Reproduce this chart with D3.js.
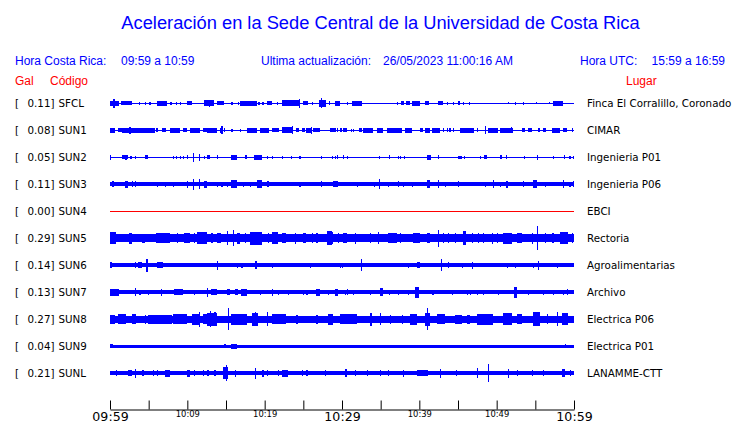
<!DOCTYPE html>
<html><head><meta charset="utf-8">
<script src="https://cdn.jsdelivr.net/npm/d3@7"></script>
<style>
body{margin:0;background:#fff;}
svg{display:block;}
</style></head>
<body>
<svg id="chart" width="740" height="423"></svg>
<script>
// ---- data ----
const title = "Aceleración en la Sede Central de la Universidad de Costa Rica";
const headerLeft = ["Hora Costa Rica:", "09:59 a 10:59"];
const headerMid = ["Ultima actualización:", "26/05/2023 11:00:16 AM"];
const headerRight = ["Hora UTC:", "15:59 a 16:59"];
const stations = ["SFCL","SUN1","SUN2","SUN3","SUN4","SUN5","SUN6","SUN7","SUN8","SUN9","SUNL"];
const places = ["Finca El Corralillo, Coronado","CIMAR","Ingenieria P01","Ingenieria P06","EBCI","Rectoria","Agroalimentarias","Archivo","Electrica P06","Electrica P01","LANAMME-CTT"];
const peaks = [0.11,0.08,0.05,0.11,0.00,0.29,0.14,0.13,0.27,0.04,0.21];
// continuous background amplitude (Gal, half-height) of each trace
const baseAmp = [0,0,0,0.045,0,0.095,0.05,0.05,0.085,0.03,0.05];
// minutes after 09:59
const tickMinutes = [0,5,10,15,20,25,30,35,40,45,50,55,60];
const tickLabels = ["09:59","","10:09","","10:19","","10:29","","10:39","","10:49","","10:59"];
const bigTicks = ["09:59","10:29","10:59"];

// bursts: [start minute, end minute, amplitude Gal]
const evSFCL = [[0.0,1.2,0.06],[0.45,0.5,0.11],[1.4,2.8,0.05],[3.7,3.75,0.035],[4.5,4.7,0.035],[5.1,5.15,0.035],[6.1,7.4,0.06],[7.8,7.85,0.035],[8.5,8.55,0.035],[9.0,9.05,0.035],[10.0,10.6,0.05],[12.1,13.5,0.07],[12.8,12.85,0.09],[13.8,14.8,0.05],[15.7,15.75,0.035],[16.5,16.55,0.035],[16.8,19.0,0.06],[19.2,19.25,0.035],[19.7,19.75,0.035],[20.3,21.0,0.05],[21.6,21.65,0.035],[22.2,24.5,0.07],[24.4,24.45,0.105],[24.9,25.6,0.05],[26.1,26.15,0.035],[27.0,27.9,0.09],[27.3,27.35,0.12],[28.3,28.35,0.05],[29.1,29.8,0.06],[30.6,30.65,0.035],[31.3,32.6,0.06],[37.1,37.15,0.035],[37.6,38.0,0.05],[38.3,38.8,0.05],[39.0,40.1,0.06],[40.7,41.2,0.05],[42.4,43.0,0.05],[43.6,43.65,0.035],[44.3,44.35,0.035],[45.0,45.2,0.05],[45.6,45.65,0.035],[46.4,46.45,0.035],[51.5,51.55,0.025],[52.4,52.45,0.035],[53.4,53.45,0.035],[55.1,55.15,0.025],[56.8,56.85,0.025],[57.3,58.6,0.06]];
const evSUN1 = [[0,0.6,0.06],[1.0,1.5,0.05],[1.6,2.8,0.06],[2.5,2.55,0.085],[2.8,5.8,0.06],[6.0,6.2,0.05],[6.7,7.3,0.05],[7.8,9.0,0.06],[9.4,9.9,0.05],[10.3,11.6,0.06],[12.0,12.5,0.05],[12.6,13.8,0.06],[14.2,14.6,0.06],[14.4,14.45,0.095],[14.7,14.75,0.05],[15.7,15.75,0.037],[16.8,16.85,0.037],[17.7,19.0,0.06],[19.4,20.6,0.06],[21.0,21.9,0.05],[22.2,23.6,0.07],[23.5,23.55,0.095],[24.1,24.5,0.05],[24.8,25.2,0.05],[25.4,26.1,0.06],[25.95,26.0,0.085],[26.2,27.1,0.05],[28.4,28.8,0.05],[28.7,29.2,0.05],[29.3,29.35,0.05],[29.8,29.85,0.045],[30.1,30.7,0.05],[31.1,31.15,0.04],[31.4,31.45,0.04],[32.2,32.6,0.05],[32.7,34.0,0.06],[34.5,35.3,0.06],[35.8,37.7,0.06],[38.1,39.0,0.06],[40.1,40.5,0.05],[40.7,41.4,0.06],[41.6,42.7,0.06],[43.0,43.05,0.05],[43.6,43.65,0.05],[43.9,43.95,0.05],[44.3,44.35,0.05],[45.2,47.1,0.06],[47.4,47.45,0.05],[48.5,48.55,0.095],[48.9,50.2,0.06],[50.4,52.1,0.06],[51.8,51.9,0.075],[53.3,53.7,0.05],[54.0,54.6,0.05],[55.3,55.6,0.05],[56.0,56.4,0.05],[57.2,58.2,0.06],[58.6,59.1,0.05],[59.7,59.75,0.05]];
const evSUN2 = [[0.0,0.05,0.06],[1.6,2.3,0.05],[2.0,2.05,0.06],[2.65,2.7,0.037],[3.2,3.25,0.037],[4.5,4.9,0.05],[8.1,8.15,0.037],[8.5,8.55,0.037],[9.0,9.05,0.037],[9.4,9.45,0.037],[9.9,9.95,0.05],[10.7,10.75,0.11],[11.5,11.55,0.085],[12.1,12.15,0.037],[12.5,12.9,0.05],[13.8,13.85,0.05],[15.7,16.4,0.06],[17.5,17.55,0.05],[18.6,19.7,0.06],[20.3,20.35,0.037],[20.9,20.95,0.037],[22.2,22.25,0.037],[23.4,23.45,0.037],[24.5,24.55,0.037],[27.3,27.35,0.037],[28.7,28.75,0.037],[29.1,29.15,0.037],[29.3,29.5,0.05],[30.1,30.15,0.05],[30.6,30.65,0.037],[34.8,34.85,0.037],[36.1,36.15,0.05],[37.2,37.25,0.037],[37.5,37.55,0.037],[38.0,38.05,0.037],[41.0,41.5,0.06],[42.4,42.6,0.05],[45.0,45.5,0.037],[45.8,45.85,0.037],[47.8,47.85,0.037],[48.3,48.7,0.05],[50.4,50.7,0.05],[51.2,51.25,0.05],[53.5,53.55,0.037],[55.2,55.25,0.06],[57.3,57.35,0.037],[58.7,58.75,0.05],[59.4,59.45,0.037],[59.9,59.95,0.037]];
const evSUN3 = [[0.3,0.35,0.073],[1.9,2.3,0.085],[2.8,2.85,0.073],[3.2,3.25,0.073],[6.1,6.15,0.06],[7.1,7.15,0.06],[8.1,8.15,0.06],[9.9,9.95,0.085],[10.7,10.75,0.135],[11.5,11.55,0.12],[12.2,12.6,0.085],[13.8,13.85,0.06],[14.4,14.45,0.06],[15.1,15.15,0.06],[15.7,16.4,0.098],[17.2,17.25,0.06],[18.1,18.15,0.06],[19.0,19.7,0.098],[20.3,20.6,0.073],[24.5,24.55,0.06],[27.3,27.35,0.073],[28.8,29.5,0.073],[29.3,29.35,0.06],[31.9,31.95,0.06],[34.1,34.15,0.06],[34.8,34.85,0.12],[35.9,35.95,0.06],[37.2,37.25,0.073],[37.9,37.95,0.06],[39.0,39.05,0.06],[41.0,41.4,0.098],[42.4,42.45,0.098],[43.3,43.35,0.06],[45.0,45.05,0.073],[48.5,48.55,0.06],[49.5,49.55,0.098],[50.4,50.45,0.06],[51.2,51.5,0.085],[53.4,53.45,0.073],[54.7,55.2,0.098],[56.2,56.25,0.06],[58.6,58.65,0.098],[59.4,59.45,0.06],[59.9,59.95,0.073]];
const evSUN4 = [];
const evSUN5 = [[0.0,0.8,0.145],[2.5,2.9,0.135],[4.1,4.5,0.11],[6.0,7.7,0.12],[8.6,8.65,0.12],[9.6,10.3,0.12],[10.9,10.95,0.12],[11.3,12.5,0.145],[13.1,13.15,0.12],[13.8,14.4,0.12],[15.1,15.15,0.17],[15.9,15.95,0.195],[16.4,16.8,0.135],[17.4,17.45,0.12],[18.1,19.7,0.16],[20.4,20.45,0.12],[20.9,21.7,0.145],[22.2,22.8,0.12],[23.9,23.95,0.135],[24.9,25.4,0.12],[26.1,26.15,0.12],[26.7,26.75,0.12],[28.0,28.7,0.17],[28.4,28.8,0.145],[29.5,29.55,0.12],[30.1,30.7,0.12],[31.7,31.75,0.135],[33.6,33.65,0.12],[34.6,34.65,0.145],[35.9,37.1,0.12],[37.5,37.55,0.12],[39.2,40.1,0.12],[41.0,41.4,0.12],[42.4,42.45,0.205],[43.0,43.05,0.12],[43.7,43.75,0.12],[44.6,44.65,0.12],[45.6,46.0,0.17],[46.8,46.85,0.12],[47.6,47.65,0.12],[48.2,48.25,0.12],[49.4,49.45,0.135],[50.0,50.05,0.12],[50.8,52.0,0.135],[52.6,53.3,0.12],[54.6,54.65,0.135],[55.2,55.25,0.29],[56.2,56.25,0.12],[57.2,57.25,0.12],[58.2,59.2,0.145],[59.7,59.75,0.12]];
const evSUN6 = [[0.0,0.3,0.075],[3.2,3.25,0.075],[3.6,4.1,0.075],[4.7,4.75,0.16],[6.1,6.8,0.075],[13.8,13.85,0.11],[16.4,16.45,0.06],[17.0,17.05,0.06],[18.7,19.0,0.1],[20.9,20.95,0.06],[25.8,25.85,0.06],[29.7,29.75,0.06],[30.0,30.05,0.06],[32.4,32.45,0.145],[38.5,38.55,0.06],[39.7,40.1,0.075],[42.8,42.85,0.145],[43.7,43.75,0.075],[45.5,45.55,0.06],[46.8,47.0,0.085],[51.3,51.35,0.06],[52.4,52.45,0.06],[54.7,54.75,0.06],[55.3,55.35,0.11],[57.8,57.85,0.06]];
const evSUN7 = [[0.0,1.2,0.085],[3.2,3.25,0.1],[3.8,3.85,0.06],[4.9,4.95,0.06],[6.6,6.65,0.085],[8.3,9.4,0.073],[10.9,10.95,0.06],[12.5,12.55,0.11],[13.1,13.9,0.073],[15.1,15.5,0.073],[16.1,16.5,0.073],[17.0,17.7,0.085],[19.4,19.45,0.06],[20.9,20.95,0.085],[21.7,21.75,0.06],[23.0,23.05,0.06],[24.9,24.95,0.06],[25.4,25.45,0.06],[26.7,27.1,0.085],[28.2,28.25,0.06],[29.1,29.5,0.085],[30.4,30.45,0.06],[30.6,30.65,0.073],[31.4,31.45,0.06],[33.6,33.65,0.06],[34.9,35.3,0.1],[36.1,36.15,0.06],[37.2,37.25,0.06],[38.5,38.55,0.06],[39.5,39.9,0.135],[41.7,41.75,0.06],[44.2,44.25,0.06],[46.1,46.15,0.06],[46.5,46.55,0.06],[47.4,47.45,0.06],[48.2,48.25,0.06],[50.2,50.25,0.06],[52.2,52.6,0.135],[54.0,54.05,0.06],[56.0,56.05,0.06],[57.3,57.35,0.06],[58.6,58.65,0.06],[59.1,59.15,0.073]];
const evSUN8 = [[0.0,0.6,0.11],[1.0,2.1,0.12],[2.8,3.4,0.12],[4.5,4.55,0.11],[4.9,8.0,0.11],[8.1,9.9,0.12],[10.6,11.6,0.135],[11.5,11.55,0.185],[12.0,12.5,0.12],[12.6,13.8,0.16],[12.9,12.95,0.2],[13.5,13.55,0.17],[15.2,15.25,0.27],[15.7,17.7,0.135],[18.3,19.1,0.16],[18.7,18.75,0.17],[20.3,20.35,0.17],[21.0,22.8,0.12],[24.1,24.15,0.11],[26.7,26.75,0.11],[28.2,28.8,0.135],[28.4,28.8,0.135],[29.7,30.7,0.12],[30.4,31.9,0.12],[33.6,33.9,0.16],[34.9,34.95,0.145],[36.2,36.25,0.11],[37.7,37.75,0.11],[38.8,39.7,0.135],[40.7,41.4,0.16],[41.0,41.05,0.27],[42.3,43.3,0.12],[44.6,45.5,0.11],[46.1,46.5,0.11],[47.4,49.5,0.135],[50.8,52.0,0.145],[52.6,53.3,0.12],[54.7,55.6,0.17],[56.5,56.55,0.12],[57.8,57.85,0.17],[58.5,59.2,0.145]];
const evSUN9 = [[0.0,0.4,0.045],[0.8,5.1,0.037],[6.8,9.4,0.037],[14.8,14.85,0.045],[15.7,16.4,0.06],[18.3,19.0,0.037],[21.0,21.05,0.037],[22.8,25.4,0.037],[30.4,31.3,0.037],[35.5,36.8,0.037],[40.5,41.4,0.037],[43.0,45.6,0.037],[47.0,49.5,0.037],[50.0,52.6,0.037],[53.4,55.2,0.037],[58.8,58.85,0.045]];
const evSUNL = [[0.8,0.85,0.075],[2.3,2.8,0.075],[3.2,3.25,0.11],[4.2,4.25,0.075],[5.5,5.55,0.075],[6.1,6.15,0.075],[7.1,7.7,0.085],[9.9,10.3,0.085],[10.9,10.95,0.075],[12.0,12.05,0.075],[12.6,12.65,0.075],[13.5,13.55,0.075],[14.6,15.2,0.145],[15.0,15.05,0.2],[16.1,16.15,0.085],[18.7,18.75,0.135],[19.7,19.75,0.085],[20.3,20.35,0.075],[21.7,21.75,0.075],[22.3,23.0,0.085],[24.8,24.85,0.075],[25.4,25.45,0.075],[27.8,27.85,0.075],[30.4,30.6,0.1],[31.7,31.75,0.075],[33.2,33.25,0.075],[34.9,34.95,0.075],[35.9,35.95,0.075],[37.9,37.95,0.085],[39.7,41.1,0.075],[42.7,42.75,0.11],[44.7,44.75,0.075],[47.4,47.45,0.12],[48.9,48.95,0.22],[51.5,51.55,0.11],[52.6,52.65,0.075],[54.6,54.65,0.075],[56.0,56.05,0.075],[58.5,58.8,0.1],[59.5,59.55,0.075]];
const events = [evSFCL,evSUN1,evSUN2,evSUN3,evSUN4,evSUN5,evSUN6,evSUN7,evSUN8,evSUN9,evSUNL];

// ---- drawing ----
const svg = d3.select("#chart");
const BLUE = "#0000ff", RED = "#ff0000";
const sans = "'Liberation Sans', Arial, sans-serif";
const dv = "'DejaVu Sans', sans-serif";

svg.append("text").attr("x", 380.5).attr("y", 29).attr("text-anchor","middle")
  .attr("font-family", sans).attr("font-size", 18.3).attr("fill", BLUE).text(title);

function hdr(x, t, anchor){ svg.append("text").attr("x", x).attr("y", 65).attr("text-anchor", anchor||"start")
  .attr("font-family", sans).attr("font-size", 12).attr("fill", BLUE).text(t); }
hdr(15, headerLeft[0]); hdr(121, headerLeft[1]);
hdr(261, headerMid[0]); hdr(383, headerMid[1]);
hdr(580, headerRight[0]); hdr(725, headerRight[1], "end");

function red(x, t){ svg.append("text").attr("x", x).attr("y", 85).attr("font-family", sans)
  .attr("font-size", 12).attr("fill", RED).text(t); }
red(15, "Gal"); red(50, "Código"); red(626, "Lugar");

const x = d3.scaleLinear().domain([0, 60]).range([110, 574]);
const y = d3.scalePoint().domain(stations).range([103.3, 373.3]);
const amp = d3.scaleLinear().domain([0, 0.3]).range([0, 12.3]);

const rows = svg.append("g").selectAll("g").data(stations).join("g")
  .attr("transform", d => `translate(0,${y(d)})`);

rows.append("text").attr("x", 15).attr("y", 4).attr("font-family", dv).attr("font-size", 10.3)
  .attr("fill", "#000").text("[");
rows.append("text").attr("x", 54.5).attr("y", 4).attr("text-anchor","end").attr("font-family", dv)
  .attr("font-size", 10.3).attr("fill", "#000").text((d,i) => peaks[i].toFixed(2) + "]");
rows.append("text").attr("x", 58.5).attr("y", 4).attr("font-family", dv).attr("font-size", 10.3)
  .attr("fill", "#000").text(d => d);
rows.append("text").attr("x", 587).attr("y", 4).attr("font-family", dv).attr("font-size", 10.3)
  .attr("fill", "#000").text((d,i) => places[i]);

rows.each(function(d, i){
  const g = d3.select(this);
  const col = peaks[i] === 0 ? RED : BLUE;
  const tg = g.append("g").attr("fill", col).attr("shape-rendering", "crispEdges");
  const b = Math.max(amp(baseAmp[i]), 0.5);
  tg.append("rect").attr("x", x(0)).attr("width", x(60) - x(0)).attr("y", -b).attr("height", 2*b);
  tg.selectAll("rect.ev").data(events[i]).join("rect").attr("class","ev")
    .attr("x", e => x(e[0]))
    .attr("width", e => Math.max(x(e[1]) - x(e[0]), 1.2))
    .attr("y", e => -amp(e[2]))
    .attr("height", e => 2*amp(e[2]));
});

// time axis
const ax = svg.append("g").attr("transform", "translate(0,409.5)")
  .call(d3.axisBottom(x).tickValues(tickMinutes).tickSizeInner(-9).tickSizeOuter(0)
    .tickFormat((d,i) => tickLabels[i]));
ax.select(".domain").attr("stroke", "#000");
ax.selectAll(".tick line").attr("stroke", "#000");
ax.selectAll(".tick text").attr("fill", "#000").attr("font-family", dv)
  .attr("dy", 0)
  .attr("y", (d,i) => bigTicks.includes(tickLabels[i]) ? 11.5 : 7)
  .attr("font-size", (d,i) => bigTicks.includes(tickLabels[i]) ? 12.6 : 8.4);
</script>
</body></html>
